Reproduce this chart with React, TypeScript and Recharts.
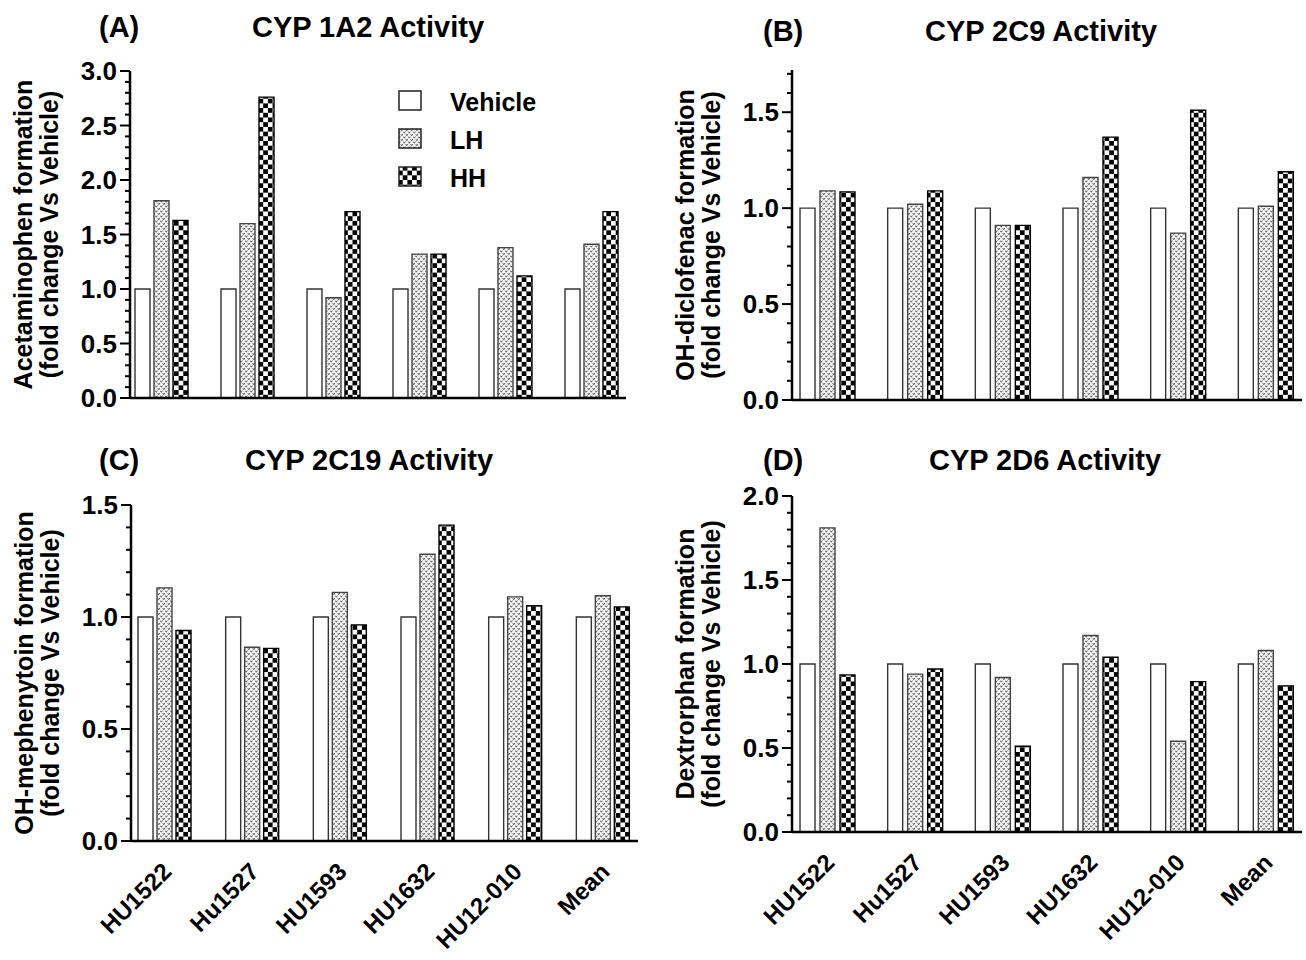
import { BarChart, Bar, XAxis, YAxis, Legend } from "recharts";

const FONT = "'Liberation Sans', Arial, Helvetica, sans-serif";

const samples = ["HU1522", "Hu1527", "HU1593", "HU1632", "HU12-010", "Mean"];
const treatments = ["Vehicle", "LH", "HH"];
const treatmentFills = ["#ffffff", "url(#lhPat)", "url(#hhPat)"];

// fold change vs vehicle
const cyp1a2Vehicle = [1, 1, 1, 1, 1, 1];
const cyp1a2LH = [1.81, 1.6, 0.92, 1.32, 1.38, 1.41];
const cyp1a2HH = [1.63, 2.76, 1.71, 1.32, 1.12, 1.71];

const cyp2c9Vehicle = [1, 1, 1, 1, 1, 1];
const cyp2c9LH = [1.09, 1.02, 0.91, 1.16, 0.87, 1.01];
const cyp2c9HH = [1.085, 1.09, 0.91, 1.37, 1.51, 1.19];

const cyp2c19Vehicle = [1, 1, 1, 1, 1, 1];
const cyp2c19LH = [1.13, 0.865, 1.11, 1.28, 1.09, 1.095];
const cyp2c19HH = [0.94, 0.86, 0.965, 1.41, 1.05, 1.045];

const cyp2d6Vehicle = [1, 1, 1, 1, 1, 1];
const cyp2d6LH = [1.81, 0.94, 0.92, 1.17, 0.54, 1.08];
const cyp2d6HH = [0.935, 0.97, 0.51, 1.04, 0.895, 0.87];

const majorTicks1a2 = [0, 0.5, 1.0, 1.5, 2.0, 2.5, 3.0];
const majorTicks2c9 = [0, 0.5, 1.0, 1.5];
const majorTicks2c19 = [0, 0.5, 1.0, 1.5];
const majorTicks2d6 = [0, 0.5, 1.0, 1.5, 2.0];
const minorStep = 0.1;

function withMinor(major: number[], top: number) {
  const out: number[] = [];
  for (let i = 0; i * minorStep <= top + 1e-9; i++) out.push(Math.round(i * minorStep * 10) / 10);
  return out.length ? out : major;
}

function rows(v: number[], lh: number[], hh: number[]) {
  return samples.map((s, i) => ({ sample: s, vehicle: v[i], lh: lh[i], hh: hh[i] }));
}

const W = 1306;
const H = 960;
const Y_W = 120;

const panels = [
  {
    key: "A", tag: "(A)", title: "CYP 1A2 Activity",
    yLines: ["Acetaminophen formation", "(fold change Vs Vehicle)"],
    data: rows(cyp1a2Vehicle, cyp1a2LH, cyp1a2HH),
    yMax: 3, ticks: withMinor(majorTicks1a2, 3),
    left: 130, right: 626, top: 71, bottom: 398, padL: -12, padR: -8, gap: 4,
    showX: false, legend: true,
    tagX: 99, titleX: 368, titleY: 37,
  },
  {
    key: "B", tag: "(B)", title: "CYP 2C9 Activity",
    yLines: ["OH-diclofenac formation", "(fold change Vs Vehicle)"],
    data: rows(cyp2c9Vehicle, cyp2c9LH, cyp2c9HH),
    yMax: 1.72, ticks: withMinor(majorTicks2c9, 1.7),
    left: 792, right: 1302, top: 70, bottom: 400, padL: -8, padR: -8, gap: 5,
    showX: false, legend: false,
    tagX: 763, titleX: 1041, titleY: 41,
  },
  {
    key: "C", tag: "(C)", title: "CYP 2C19 Activity",
    yLines: ["OH-mephenytoin formation", "(fold change Vs Vehicle)"],
    data: rows(cyp2c19Vehicle, cyp2c19LH, cyp2c19HH),
    yMax: 1.5, ticks: withMinor(majorTicks2c19, 1.5),
    left: 131, right: 638, top: 505, bottom: 841, padL: -10, padR: -9, gap: 4,
    showX: true, legend: false,
    tagX: 99, titleX: 369, titleY: 470,
  },
  {
    key: "D", tag: "(D)", title: "CYP 2D6 Activity",
    yLines: ["Dextrorphan formation", "(fold change Vs Vehicle)"],
    data: rows(cyp2d6Vehicle, cyp2d6LH, cyp2d6HH),
    yMax: 2, ticks: withMinor(majorTicks2d6, 2),
    left: 792, right: 1302, top: 496, bottom: 832, padL: -8, padR: -8, gap: 5,
    showX: true, legend: false,
    tagX: 763, titleX: 1045, titleY: 470,
  },
];

function YTick(props: any) {
  const { x, y, payload } = props;
  const v = Number(payload.value);
  const major = Math.abs(v * 2 - Math.round(v * 2)) < 1e-6;
  return (
    <g>
      <line x1={x} x2={x - (major ? 10 : 5)} y1={y} y2={y} stroke="#000" strokeWidth={2} />
      {major && (
        <text x={x - 13} y={y} textAnchor="end" dominantBaseline="central"
          fontFamily={FONT} fontWeight="bold" fontSize={26} fill="#000">
          {v.toFixed(1)}
        </text>
      )}
    </g>
  );
}

function XTick(props: any) {
  const { x, y, payload } = props;
  const ax = x + 8;
  const ay = y + 32;
  return (
    <text x={ax} y={ay} transform={`rotate(-45, ${ax}, ${ay})`} textAnchor="end"
      fontFamily={FONT} fontWeight="bold" fontSize={24} fill="#000">
      {payload.value}
    </text>
  );
}

function LegendBox() {
  return (
    <svg width={200} height={115}>
      {treatments.map((t, i) => (
        <g key={t}>
          <rect x={1} y={5 + i * 38} width={22} height={19} fill={treatmentFills[i]} stroke="#222" strokeWidth={1.5} />
          <text x={52} y={25 + i * 38} fontFamily={FONT} fontWeight="bold" fontSize={25} fill="#000">{t}</text>
        </g>
      ))}
    </svg>
  );
}

function Panel({ p }: { p: (typeof panels)[number] }) {
  const xH = p.showX ? 100 : 2;
  const midY = (p.top + p.bottom) / 2;
  return (
    <div style={{ position: "absolute", left: 0, top: 0 }}>
      <BarChart
        width={W}
        height={H}
        data={p.data}
        barGap={p.gap}
        margin={{ top: p.top, left: p.left - Y_W, right: W - p.right, bottom: H - p.bottom - xH }}
      >
        <XAxis
          dataKey="sample"
          type="category"
          padding={{ left: p.padL, right: p.padR }}
          axisLine={{ stroke: "#000", strokeWidth: 2.5 }}
          tickLine={false}
          tickSize={0}
          tickMargin={0}
          height={xH}
          interval={0}
          tick={p.showX ? <XTick /> : false}
        />
        <YAxis
          type="number"
          width={Y_W}
          domain={[0, p.yMax]}
          ticks={p.ticks}
          interval={0}
          axisLine={{ stroke: "#000", strokeWidth: 2.5 }}
          tickLine={false}
          tickSize={0}
          tickMargin={0}
          tick={<YTick />}
          label={{
            content: () => (
              <g fontFamily={FONT} fontWeight="bold" fontSize={25} fill="#000">
                {p.yLines.map((line, i) => {
                  const lx = p.left - 107 + i * 26;
                  return (
                    <text key={i} x={lx} y={midY} textAnchor="middle" dominantBaseline="central"
                      transform={`rotate(-90, ${lx}, ${midY})`}>
                      {line}
                    </text>
                  );
                })}
              </g>
            ),
          }}
        />
        {p.legend && (
          <Legend
            layout="vertical"
            align="center"
            verticalAlign="middle"
            wrapperStyle={{ left: 398, top: 86, width: 200, height: 115 }}
            content={() => <LegendBox />}
          />
        )}
        <Bar dataKey="vehicle" name="Vehicle" barSize={15} fill={treatmentFills[0]} stroke="#333" strokeWidth={1.4} isAnimationActive={false} />
        <Bar dataKey="lh" name="LH" barSize={15} fill={treatmentFills[1]} stroke="#444" strokeWidth={1.4} isAnimationActive={false} />
        <Bar dataKey="hh" name="HH" barSize={15} fill={treatmentFills[2]} stroke="#000" strokeWidth={1.4} isAnimationActive={false} />
      </BarChart>
    </div>
  );
}

export default function App() {
  return (
    <div style={{ position: "absolute", left: 0, top: 0, width: W, height: H, background: "#fff" }}>
      <svg width={W} height={H} style={{ position: "absolute", left: 0, top: 0 }}>
        <defs>
          <pattern id="lhPat" patternUnits="userSpaceOnUse" width={5} height={5}>
            <rect width={5} height={5} fill="#f4f4f4" />
            <path d="M0.3,0.6 L1.3,2.2 L2.3,0.6" stroke="#555" strokeWidth={1} fill="none" />
            <path d="M2.8,3.1 L3.8,4.7 L4.8,3.1" stroke="#555" strokeWidth={1} fill="none" />
          </pattern>
          <pattern id="hhPat" patternUnits="userSpaceOnUse" width={9.4} height={9.4}>
            <rect width={9.4} height={9.4} fill="#fff" />
            <rect x={0} y={0} width={4.7} height={4.7} fill="#000" />
            <rect x={4.7} y={4.7} width={4.7} height={4.7} fill="#000" />
          </pattern>
        </defs>
        {panels.map((p) => (
          <g key={p.key} fontFamily={FONT} fontWeight="bold" fontSize={29} fill="#000">
            <text x={p.tagX} y={p.titleY}>{p.tag}</text>
            <text x={p.titleX} y={p.titleY} textAnchor="middle">{p.title}</text>
          </g>
        ))}
      </svg>
      {panels.map((p) => (
        <Panel key={p.key} p={p} />
      ))}
    </div>
  );
}
